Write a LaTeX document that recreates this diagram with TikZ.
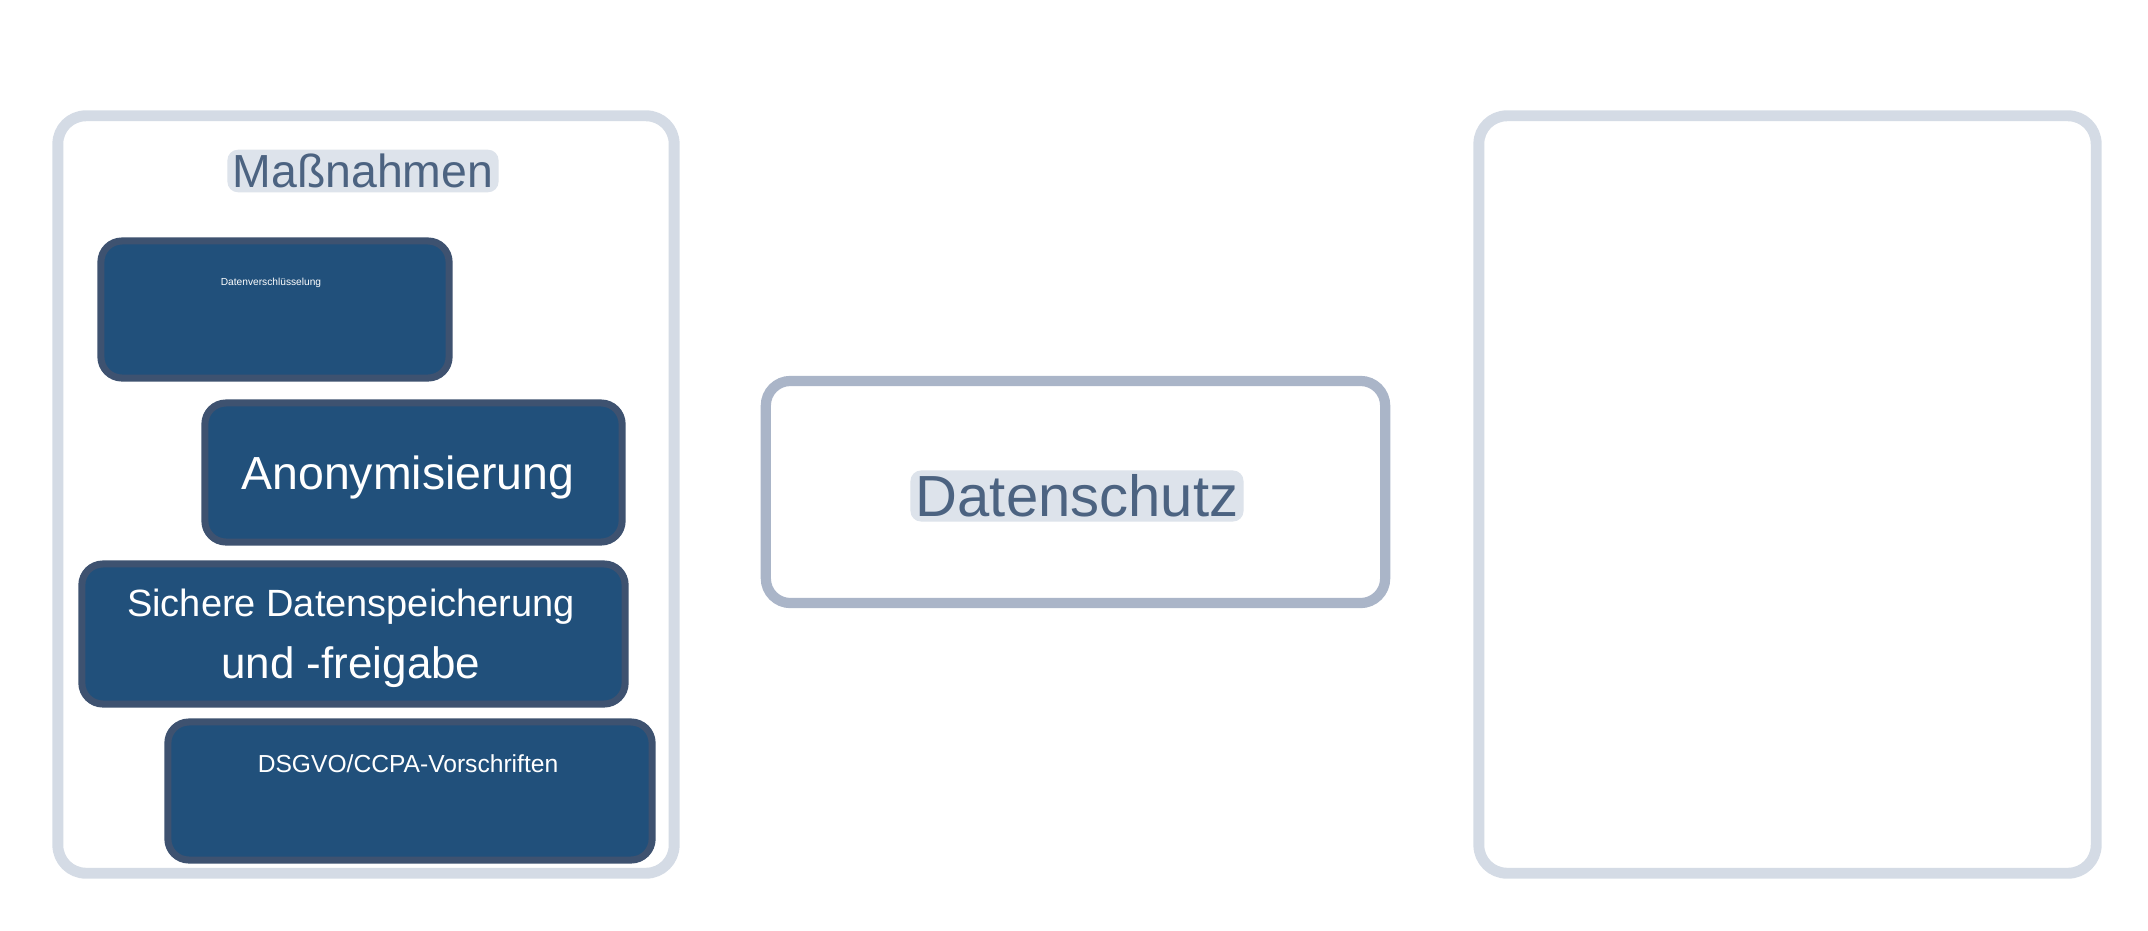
\documentclass[tikz,border=0pt]{standalone}
\usepackage{fontspec}
\setmainfont{Liberation Sans}
\definecolor{outerline}{HTML}{D4DBE5}
\definecolor{midline}{HTML}{AAB5C8}
\definecolor{darkfill}{HTML}{21507B}
\definecolor{darkline}{HTML}{3E5270}
\definecolor{titletext}{HTML}{4C6381}
\definecolor{halo}{HTML}{DDE3EB}
\tikzset{
  outerbox/.style={draw=outerline, line width=3.1pt, rounded corners=8pt, fill=white, inner sep=0pt},
  midbox/.style={draw=midline, line width=2.9pt, rounded corners=7pt, fill=white, inner sep=0pt},
  darkbox/.style={draw=darkline, line width=2pt, rounded corners=6pt, fill=darkfill, inner sep=0pt},
  wtext/.style={text=white, inner sep=0pt, align=center},
  ttext/.style={text=titletext, fill=halo, rounded corners=3pt, inner xsep=1.5pt, inner ysep=1.2pt},
}
\begin{document}
\begin{tikzpicture}[x=0.01cm,y=-0.01cm]
\useasboundingbox (0,0) rectangle (2148,930);
% outer containers
\node[outerbox, minimum width=6.16cm, minimum height=7.57cm] (left) at (366,494.5) {};
\node[outerbox, minimum width=6.17cm, minimum height=7.57cm] (right) at (1787.5,494.5) {};
% centre box
\node[midbox, minimum width=6.19cm, minimum height=2.22cm] (centre) at (1075.5,492) {};
\node[ttext, font=\fontsize{16.5}{19}\selectfont] (centrelabel) at (1077,496) {Datenschutz};
% title
\node[ttext, font=\fontsize{13.2}{16}\selectfont] (title) at (363,171) {Maßnahmen};
% dark boxes
\node[darkbox, minimum width=3.48cm, minimum height=1.37cm] (b1) at (275,309.5) {};
\node[darkbox, minimum width=4.17cm, minimum height=1.39cm] (b2) at (413.5,472.5) {};
\node[darkbox, minimum width=5.43cm, minimum height=1.40cm] (b3) at (353.5,634) {};
\node[darkbox, minimum width=4.84cm, minimum height=1.38cm] (b4) at (410,791) {};
% labels
\node[wtext, font=\fontsize{2.9}{3.5}\selectfont] (t1) at (271,283) {Datenverschlüsselung};
\node[wtext, font=\fontsize{13.2}{16}\selectfont] (t2) at (408,477) {Anonymisierung};
\node[wtext, font=\fontsize{10.8}{13}\selectfont] (t3a) at (351,607) {Sichere Datenspeicherung};
\node[wtext, font=\fontsize{12.5}{15}\selectfont] (t3b) at (351,667) {und -freigabe};
\node[wtext, font=\fontsize{7}{8.5}\selectfont] (t4) at (408,764) {DSGVO/CCPA-Vorschriften};
\end{tikzpicture}
\end{document}
